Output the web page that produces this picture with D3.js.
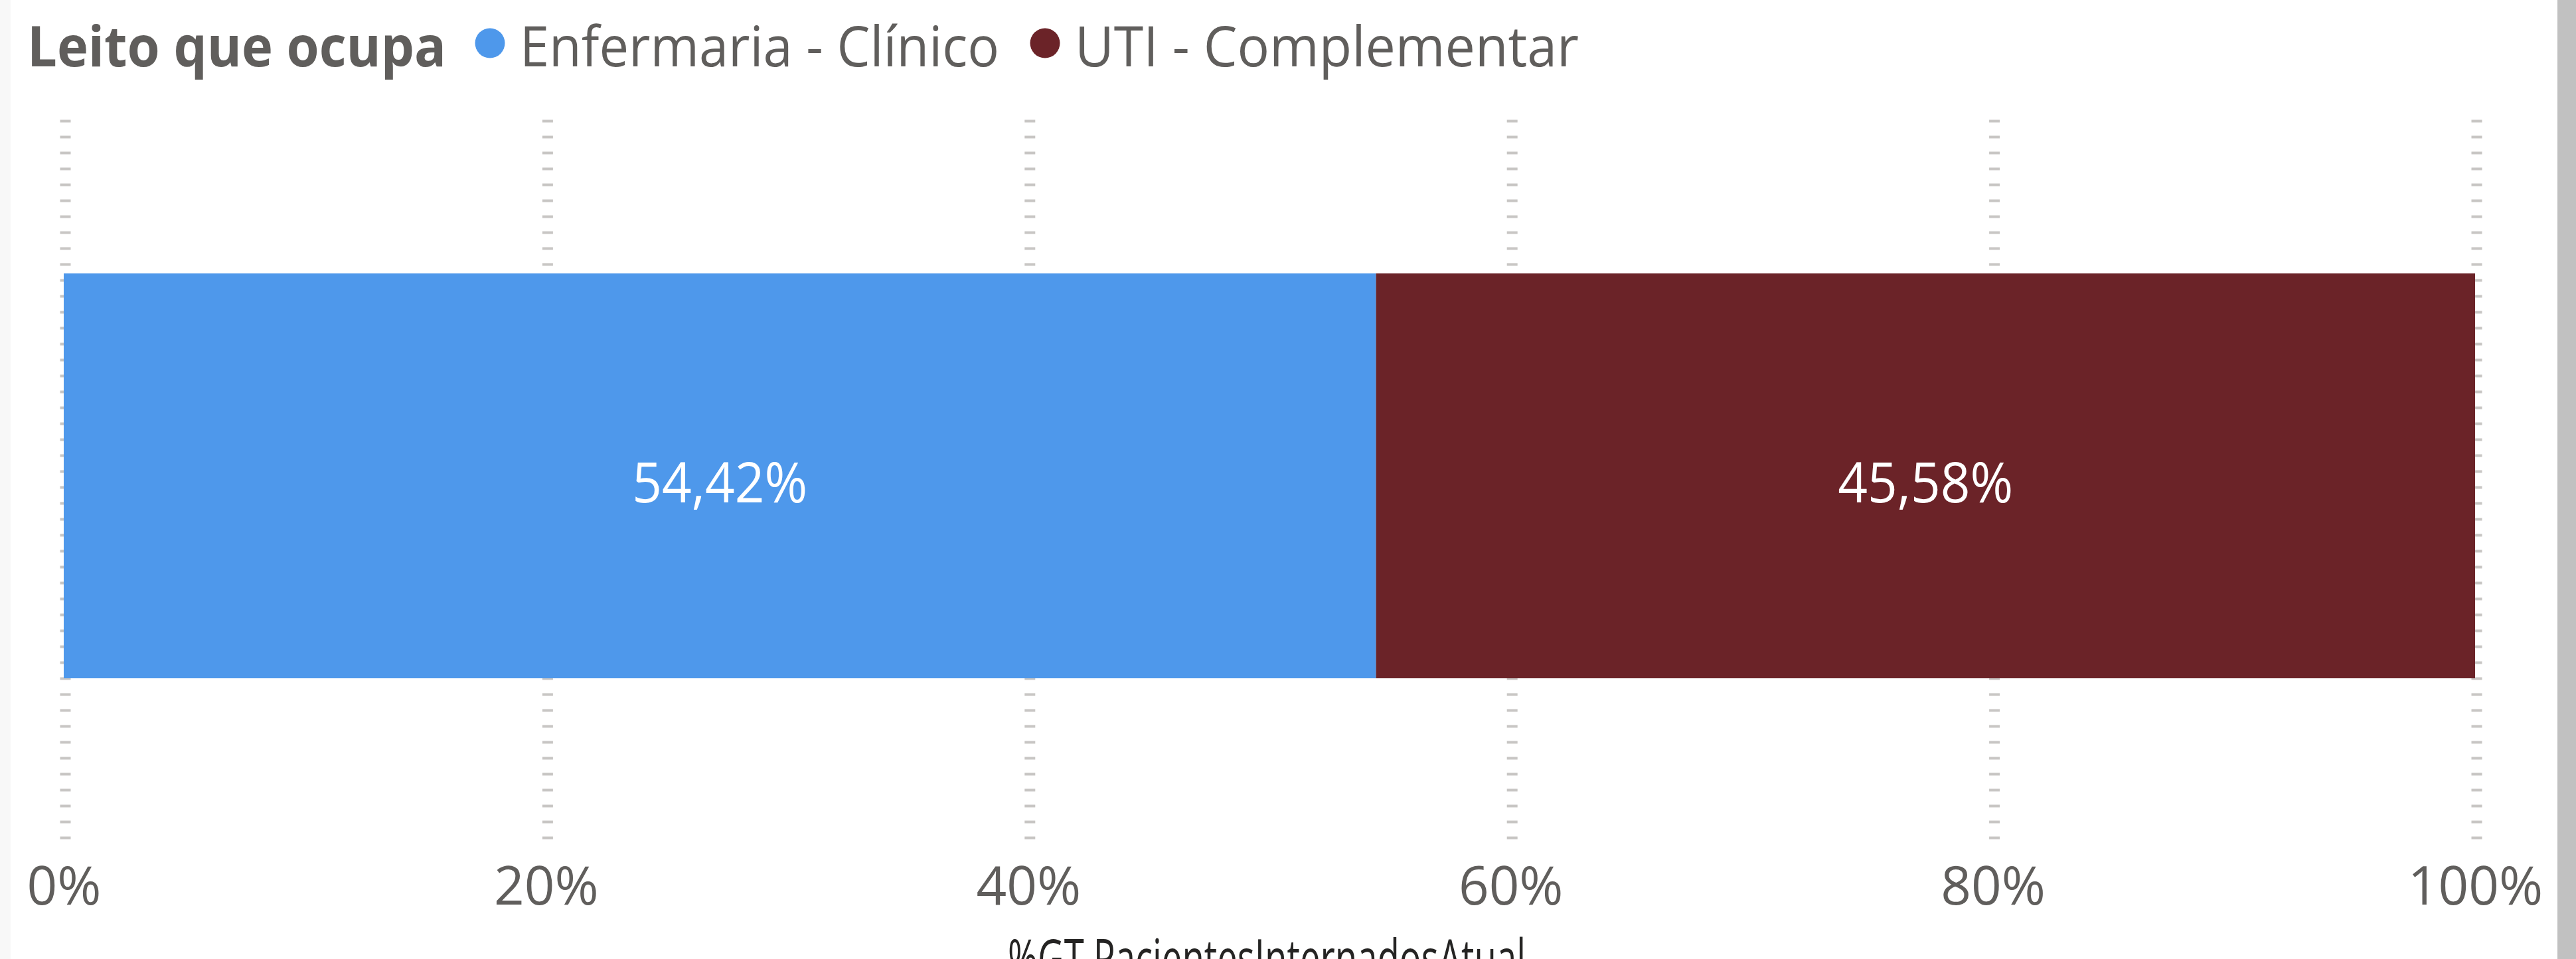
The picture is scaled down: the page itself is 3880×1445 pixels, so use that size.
<!DOCTYPE html>
<html>
  <head>
    <meta charset="utf-8" />
    <script type="text/javascript" src="https://cdn.jsdelivr.net/npm/d3@7"></script>
    <style>
      body { margin: 0; overflow: hidden; background: #ffffff; }
      text { font-family: "Segoe UI", "Open Sans", sans-serif; }
    </style>
  </head>
  <body>
    <script type="text/javascript">
      // data
      const categories = ["Enfermaria - Clínico", "UTI - Complementar"];
      const values = [54.42, 45.58];
      const colors = ["#4E98EB", "#6B2328"];
      const tickValues = [0, 20, 40, 60, 80, 100];
      const legendTitle = "Leito que ocupa";
      const axisTitle = "%GT PacientesInternadosAtual";

      const W = 3880, H = 1445;

      const svg = d3
        .select("body")
        .append("svg")
        .attr("width", W)
        .attr("height", H);

      // visual frame: light strip left, grey scrollbar right
      svg.append("rect").attr("x", 0).attr("y", 0).attr("width", 16).attr("height", H).attr("fill", "#f8f8f8");
      svg.append("rect").attr("x", 3852).attr("y", 0).attr("width", 28).attr("height", H).attr("fill", "#c1c1c1");

      const xScale = d3.scaleLinear().domain([0, 100]).range([96, 3728]);
      const yScale = d3.scaleBand().domain(["row"]).range([170, 1264]).padding(0.284);

      // dotted gridlines
      const grid = svg
        .append("g")
        .attr("class", "grid")
        .attr("transform", "translate(2,180.5)")
        .call(d3.axisBottom(xScale).tickValues(tickValues).tickSize(1086).tickFormat(""));
      grid.select(".domain").remove();
      grid
        .selectAll("line")
        .attr("stroke", "#c8c6c4")
        .attr("stroke-width", 16)
        .attr("stroke-dasharray", "4 20");

      // stacked 100% bar
      const row = {};
      categories.forEach(function (c, i) { row[c] = values[i]; });
      const stacked = d3.stack().keys(categories)([row]);

      const segs = svg
        .append("g")
        .selectAll("g")
        .data(stacked)
        .enter()
        .append("g");

      segs
        .append("rect")
        .attr("x", function (d) { return xScale(d[0][0]); })
        .attr("y", yScale("row"))
        .attr("width", function (d) { return xScale(d[0][1]) - xScale(d[0][0]); })
        .attr("height", yScale.bandwidth())
        .attr("fill", function (d, i) { return colors[i]; });

      segs
        .append("text")
        .attr("x", function (d) { return (xScale(d[0][0]) + xScale(d[0][1])) / 2; })
        .attr("y", yScale("row") + yScale.bandwidth() / 2 + 40)
        .attr("text-anchor", "middle")
        .attr("fill", "#ffffff")
        .attr("font-size", 84)
        .attr("textLength", 264)
        .attr("lengthAdjust", "spacingAndGlyphs")
        .text(function (d, i) { return values[i].toFixed(2).replace(".", ",") + "%"; });

      // x axis tick labels
      const xAxis = svg
        .append("g")
        .attr("transform", "translate(0,1363)")
        .call(
          d3.axisBottom(xScale)
            .tickValues(tickValues)
            .tickSize(0)
            .tickPadding(0)
            .tickFormat(function (d) { return d + "%"; })
        );
      xAxis.select(".domain").remove();
      xAxis
        .selectAll("text")
        .attr("dy", 0)
        .attr("y", 0)
        .attr("font-family", "'Open Sans', sans-serif")
        .attr("font-size", 80)
        .attr("fill", "#605e5c");

      // axis title (cut off by the bottom edge, as in the original)
      svg
        .append("text")
        .attr("x", 1908)
        .attr("y", 1473)
        .attr("text-anchor", "middle")
        .attr("fill", "#252423")
        .attr("font-size", 80)
        .attr("textLength", 780)
        .attr("lengthAdjust", "spacingAndGlyphs")
        .text(axisTitle);

      // legend
      const legend = svg.append("g");
      legend
        .append("text")
        .attr("x", 41)
        .attr("y", 100)
        .attr("font-size", 84)
        .attr("font-weight", "bold")
        .attr("fill", "#605e5c")
        .attr("textLength", 631)
        .attr("lengthAdjust", "spacingAndGlyphs")
        .text(legendTitle);

      const legendX = [738, 1574];
      const legendLen = [722, 759];
      const items = legend
        .selectAll(".item")
        .data(categories)
        .enter()
        .append("g")
        .attr("class", "item");
      items
        .append("circle")
        .attr("cx", function (d, i) { return legendX[i]; })
        .attr("cy", 65)
        .attr("r", 22.5)
        .attr("fill", function (d, i) { return colors[i]; });
      items
        .append("text")
        .attr("x", function (d, i) { return legendX[i] + 45; })
        .attr("y", 100)
        .attr("font-size", 84)
        .attr("fill", "#605e5c")
        .attr("textLength", function (d, i) { return legendLen[i]; })
        .attr("lengthAdjust", "spacingAndGlyphs")
        .text(function (d) { return d; });
    </script>
  </body>
</html>
